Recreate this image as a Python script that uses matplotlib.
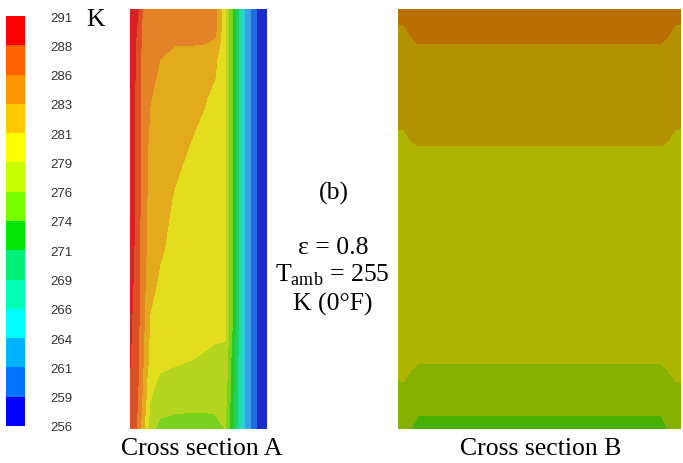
import matplotlib.pyplot as plt
import numpy as np
from matplotlib.colors import ListedColormap, BoundaryNorm
from matplotlib.cm import ScalarMappable

plt.rcParams['font.family'] = ['Liberation Serif', 'DejaVu Serif']
plt.rcParams['mathtext.fontset'] = 'custom'
plt.rcParams['mathtext.rm'] = 'Liberation Serif'

# contour levels (K) and the labels printed on the colour bar
levels = [256.0, 258.5, 261.0, 263.5, 266.0, 268.5, 271.0, 273.5,
          276.0, 278.5, 281.0, 283.5, 286.0, 288.5, 291.0]
tick_labels = ['256', '259', '261', '264', '266', '269', '271', '274',
               '276', '279', '281', '283', '286', '288', '291']

# cross section A: temperature samples (K), rows top -> bottom
a_x = [0.0, 0.029, 0.058, 0.095, 0.146, 0.219, 0.328, 0.438, 0.547, 0.620,
       0.693, 0.839, 0.927, 1.0]
a_y = [1.0, 0.952, 0.917, 0.881, 0.786, 0.667, 0.548, 0.429, 0.333, 0.238,
       0.167, 0.119, 0.071, 0.036, 0.0]
a_temp = [
    [290.8, 290.2, 288.8, 285.6, 285.0, 285.0, 285.0, 285.0, 285.0, 284.5, 279.0, 263.5, 258.5, 256.3],
    [290.6, 289.8, 287.8, 285.3, 285.0, 285.0, 285.0, 285.0, 285.0, 284.3, 279.0, 263.5, 258.5, 256.3],
    [290.3, 289.3, 287.3, 285.2, 284.6, 284.0, 283.6, 283.6, 283.5, 283.0, 279.0, 263.5, 258.5, 256.3],
    [290.2, 289.1, 287.2, 285.1, 284.2, 283.5, 282.8, 282.6, 282.2, 281.5, 279.0, 263.5, 258.5, 256.3],
    [290.0, 288.9, 287.0, 285.0, 283.6, 282.8, 282.3, 281.8, 281.1, 280.5, 279.0, 263.5, 258.5, 256.3],
    [289.8, 288.8, 287.0, 285.0, 282.8, 282.3, 281.6, 280.9, 280.4, 280.2, 279.0, 263.5, 258.5, 256.3],
    [289.6, 288.7, 286.9, 284.8, 282.5, 281.8, 280.8, 280.4, 280.2, 280.0, 279.0, 263.5, 258.5, 256.3],
    [289.3, 288.5, 286.8, 284.6, 282.2, 281.3, 280.3, 280.2, 280.0, 279.8, 279.0, 263.5, 258.5, 256.3],
    [289.0, 288.3, 286.7, 284.3, 281.6, 280.5, 280.2, 280.1, 279.9, 279.7, 279.0, 263.5, 258.5, 256.3],
    [288.8, 288.0, 286.5, 284.0, 280.6, 280.0, 279.8, 279.6, 279.3, 279.0, 279.0, 263.5, 258.5, 256.3],
    [288.6, 287.8, 286.3, 283.7, 280.3, 279.2, 278.9, 278.6, 278.2, 278.0, 277.8, 263.5, 258.5, 256.3],
    [288.4, 287.6, 286.1, 283.2, 279.2, 278.2, 277.8, 277.6, 277.5, 277.5, 277.5, 263.5, 258.5, 256.3],
    [288.3, 287.4, 285.9, 282.8, 278.6, 277.2, 277.0, 277.0, 277.0, 277.0, 277.0, 263.5, 258.5, 256.3],
    [288.2, 287.2, 285.6, 282.3, 278.0, 276.4, 276.0, 275.9, 275.9, 276.0, 276.5, 263.5, 258.5, 256.3],
    [288.0, 287.0, 285.2, 281.8, 277.0, 275.0, 274.8, 274.8, 274.8, 275.0, 276.0, 263.5, 258.5, 256.3],
]

# cross section B: temperature samples (K), rows top -> bottom
b_x = [0.0, 0.02, 0.045, 0.07, 0.5, 0.93, 0.955, 0.98, 1.0]
b_y = [1.0, 0.964, 0.919, 0.881, 0.714, 0.674, 0.548, 0.310, 0.155, 0.114,
       0.031, 0.0]
b_edge = [284.2, 283.5, 283.0, 282.6, 281.0, 280.7, 280.3, 279.8, 279.0, 278.5, 277.3, 276.8]
b_mid = [284.6, 283.9, 283.25, 282.8, 281.3, 280.85, 280.4, 279.65, 278.75, 278.15, 276.65, 276.05]
b_center = [285.0, 284.3, 283.5, 283.0, 281.6, 281.0, 280.5, 279.5, 278.5, 277.8, 276.0, 275.3]

bar_colors = ['#0000ff', '#0073ff', '#00b4ff', '#00ffff', '#00ffb4', '#00f078', '#00e600',
              '#78ff00', '#c8ff00', '#ffff00', '#ffc800', '#ff9600', '#ff6400', '#ff0000']
a_colors = ['#1c2cc8', '#1e6ee0', '#3aa0e6', '#28d2dc', '#22dca8', '#20d264', '#28c828',
            '#78d21e', '#b4d61e', '#e2de1e', '#e4aa1e', '#e48228', '#de5023', '#d72323']
b_colors = ['#0000b4', '#0050b4', '#007eb4', '#00b4b4', '#00b47e', '#00a854', '#00a200',
            '#46b000', '#84b000', '#afb400', '#b49100', '#b96e00', '#b44600', '#b40000']

fig = plt.figure(figsize=(6.83, 4.64), dpi=100)
W, H = 683, 464


def px_axes(x0, y0, x1, y1):
    return fig.add_axes([x0 / W, 1 - y1 / H, (x1 - x0) / W, (y1 - y0) / H])


# cross section A
axA = px_axes(130, 10, 267, 430)
axA.contourf(a_x, a_y, np.array(a_temp), levels=levels, cmap=ListedColormap(a_colors))
axA.set_xlim(0, 1)
axA.set_ylim(0, 1)
axA.axis('off')

# cross section B (symmetric about the centre)
b_temp = np.column_stack([b_edge, b_edge, b_mid, b_center, b_center,
                          b_center, b_mid, b_edge, b_edge])
axB = px_axes(398, 10, 681, 430)
axB.contourf(b_x, b_y, b_temp, levels=levels, cmap=ListedColormap(b_colors))
axB.set_xlim(0, 1)
axB.set_ylim(0, 1)
axB.axis('off')

# colour bar
cax = px_axes(6, 17, 25, 427)
sm = ScalarMappable(norm=BoundaryNorm(levels, len(bar_colors)), cmap=ListedColormap(bar_colors))
cb = fig.colorbar(sm, cax=cax)
cb.set_ticks(levels)
cb.set_ticklabels(tick_labels)
cb.outline.set_visible(False)
cb.ax.tick_params(length=0, pad=18, labelsize=9.5, labelcolor='#333333')
for t in cb.ax.get_yticklabels():
    t.set_family('Liberation Sans')

fig.text(86 / W, 1 - 20 / H, 'K', fontsize=18.5, va='center', ha='left')

# annotation in the middle
fig.text(334 / W, 1 - 193 / H, '(b)', fontsize=18.5, ha='center', va='center')
fig.text(333 / W, 1 - 248 / H, 'ε = 0.8', fontsize=18.5, ha='center', va='center')
fig.text(332 / W, 1 - 275 / H, r'T$_{\mathrm{amb}}$ = 255', fontsize=18.5, ha='center', va='center')
fig.text(333 / W, 1 - 304 / H, 'K (0°F)', fontsize=18.5, ha='center', va='center')

fig.text(202 / W, 1 - 449 / H, 'Cross section A', fontsize=18.5, ha='center', va='center')
fig.text(541 / W, 1 - 449 / H, 'Cross section B', fontsize=18.5, ha='center', va='center')

fig.savefig('out.png', dpi=100)
